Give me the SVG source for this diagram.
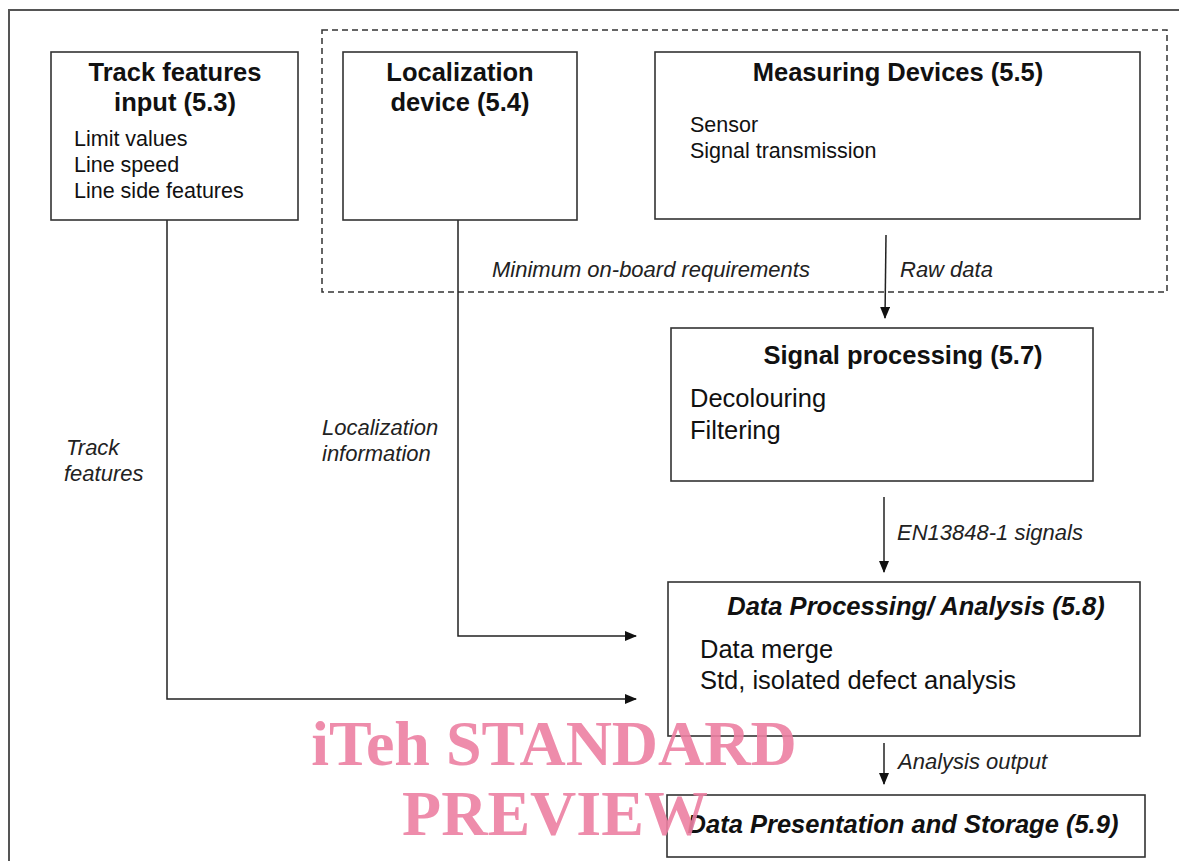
<svg xmlns="http://www.w3.org/2000/svg" width="1179" height="861" viewBox="0 0 1179 861">
<defs>
<marker id="arr" markerWidth="12" markerHeight="10" refX="11" refY="5" orient="auto" markerUnits="userSpaceOnUse">
<path d="M0,0 L12,5 L0,10 Z" fill="#111"/>
</marker>
<style>
.box{fill:#fff;stroke:#333;stroke-width:1.6}
.frame{fill:none;stroke:#555;stroke-width:2}
.dash{fill:none;stroke:#333;stroke-width:1.5;stroke-dasharray:6,4}
.ln{fill:none;stroke:#222;stroke-width:1.5}
.t{font-family:"Liberation Sans",Arial,sans-serif;fill:#111}
.h{font-size:25.5px;font-weight:bold}
.hi{font-size:25.5px;font-weight:bold;font-style:italic}
.b{font-size:21.5px}
.b2{font-size:25.5px}
.l{font-size:22px;font-style:italic;fill:#222}
.wm{font-family:"Liberation Serif","Times New Roman",serif;font-weight:bold;font-size:64px;fill:#ec7fa2;fill-opacity:0.9}
</style>
</defs>
<rect x="0" y="0" width="1179" height="861" fill="#fff"/>
<rect class="frame" x="9" y="10" width="1200" height="900"/>
<rect class="dash" x="322" y="30" width="845" height="262"/>

<g id="connectors">
<path class="ln" d="M167,220 V699 H636" marker-end="url(#arr)"/>
<path class="ln" d="M458,220 V636 H636" marker-end="url(#arr)"/>
<path class="ln" d="M886,235 L885,318" marker-end="url(#arr)"/>
<path class="ln" d="M884,497 V572" marker-end="url(#arr)"/>
<path class="ln" d="M884,743 V784" marker-end="url(#arr)"/>
<text class="t l" x="492" y="277">Minimum on-board requirements</text>
<text class="t l" x="900" y="277">Raw data</text>
<text class="t l" x="66" y="455">Track</text>
<text class="t l" x="64" y="481">features</text>
<text class="t l" x="322" y="435">Localization</text>
<text class="t l" x="322" y="461">information</text>
<text class="t l" x="897" y="540">EN13848-1 signals</text>
<text class="t l" x="898" y="769">Analysis output</text>
</g>

<g id="track">
<rect class="box" x="51" y="52" width="247" height="168"/>
<text class="t h" x="175" y="81" text-anchor="middle">Track features</text>
<text class="t h" x="175" y="111" text-anchor="middle">input (5.3)</text>
<text class="t b" x="74" y="146">Limit values</text>
<text class="t b" x="74" y="172">Line speed</text>
<text class="t b" x="74" y="198">Line side features</text>
</g>

<g id="localization">
<rect class="box" x="343" y="52" width="234" height="168"/>
<text class="t h" x="460" y="81" text-anchor="middle">Localization</text>
<text class="t h" x="460" y="111" text-anchor="middle">device (5.4)</text>
</g>

<g id="measuring">
<rect class="box" x="655" y="52" width="485" height="167"/>
<text class="t h" x="898" y="81" text-anchor="middle">Measuring Devices (5.5)</text>
<text class="t b" x="690" y="132">Sensor</text>
<text class="t b" x="690" y="158">Signal transmission</text>
</g>

<g id="signal">
<rect class="box" x="671" y="328" width="422" height="153"/>
<text class="t h" x="903" y="364" text-anchor="middle">Signal processing (5.7)</text>
<text class="t b2" x="690" y="407">Decolouring</text>
<text class="t b2" x="690" y="439">Filtering</text>
</g>

<g id="dataproc">
<rect class="box" x="668" y="582" width="472" height="154"/>
<text class="t hi" x="916" y="615" text-anchor="middle">Data Processing/ Analysis (5.8)</text>
<text class="t b2" x="700" y="658">Data merge</text>
<text class="t b2" x="700" y="689">Std, isolated defect analysis</text>
</g>

<g id="datapres">
<rect class="box" x="667" y="795" width="478" height="62"/>
<text class="t hi" x="903" y="833" text-anchor="middle">Data Presentation and Storage (5.9)</text>
</g>

<g id="watermark">
<text class="wm" x="554" y="765" text-anchor="middle">iTeh STANDARD</text>
<text class="wm" x="555" y="835" text-anchor="middle">PREVIEW</text>
</g>
</svg>
